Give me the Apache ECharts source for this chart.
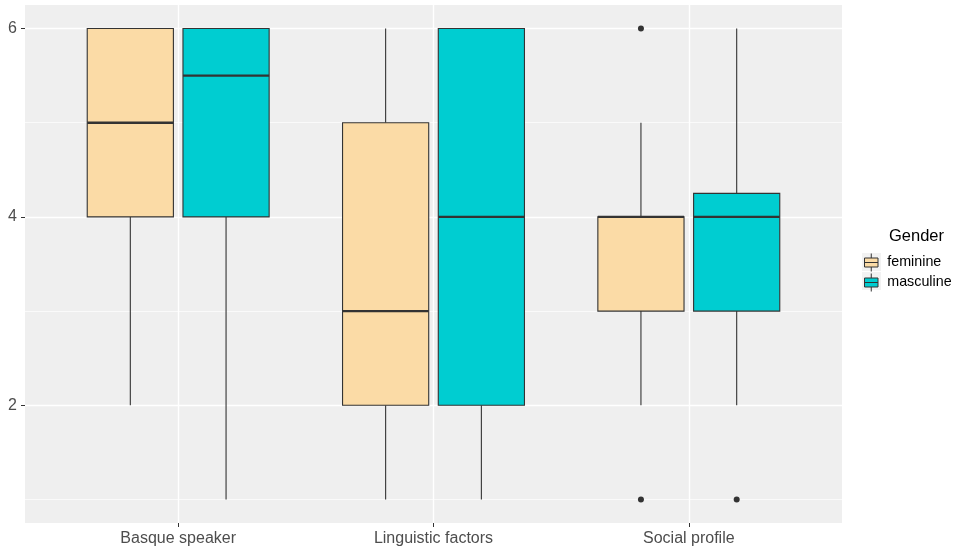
<!DOCTYPE html>
<html><head><meta charset="utf-8">
<script src="https://cdn.jsdelivr.net/npm/echarts@6/dist/echarts.min.js"></script>
<style>html,body{margin:0;padding:0;background:#fff}#c{width:961px;height:550px}</style>
</head><body><div id="c"></div>
<script>
// ---- data ----
const categories = ['Basque speaker', 'Linguistic factors', 'Social profile'];
const groups = ['feminine', 'masculine'];
// [lower whisker, Q1, median, Q3, upper whisker]
const feminineStats = [[2, 4, 5, 6, 6], [1, 2, 3, 5, 6], [2, 3, 4, 4, 5]];
const masculineStats = [[1, 4, 5.5, 6, 6], [1, 2, 4, 6, 6], [2, 3, 4, 4.25, 6]];
const feminineOutliers = [[], [], [1, 6]];
const masculineOutliers = [[], [], [1]];
const yLabelTicks = [2, 4, 6];
const yMajorGrid = [2, 4, 6];
const yMinorGrid = [1, 3, 5];

// ---- styling / layout ----
const colors = ['#FBDBA6', '#00CDD1'];
const dodge = [-0.1875, 0.1875];
const boxWidth = 0.3375;
const lineColor = '#333333';

const statsByGroup = [feminineStats, masculineStats];
const outliersByGroup = [feminineOutliers, masculineOutliers];

function boxRender(gi) {
  return function (params, api) {
    const x = api.value(0) + dodge[gi];
    const cx = api.coord([x, 0])[0];
    const w = api.size([boxWidth, 0])[0];
    const y = (i) => api.coord([x, api.value(i)])[1];
    const yLo = y(1), yQ1 = y(2), yMed = y(3), yQ3 = y(4), yHi = y(5);
    return {
      type: 'group',
      children: [
        { type: 'line', shape: { x1: cx, y1: yHi, x2: cx, y2: yQ3 }, style: { stroke: lineColor, lineWidth: 1.1 } },
        { type: 'line', shape: { x1: cx, y1: yQ1, x2: cx, y2: yLo }, style: { stroke: lineColor, lineWidth: 1.1 } },
        { type: 'rect', shape: { x: cx - w / 2, y: yQ3, width: w, height: yQ1 - yQ3 }, style: { fill: colors[gi], stroke: lineColor, lineWidth: 1.1 } },
        { type: 'line', shape: { x1: cx - w / 2, y1: yMed, x2: cx + w / 2, y2: yMed }, style: { stroke: lineColor, lineWidth: 2.4 } }
      ]
    };
  };
}

const series = [];
// grid lines
series.push({
  type: 'line', name: '_grid', data: [], z: 1, silent: true,
  markLine: {
    z: 1, silent: true, symbol: ['none', 'none'], label: { show: false }, animation: false,
    data: [
      ...yMinorGrid.map(v => ({ yAxis: v, lineStyle: { color: '#ffffff', width: 0.7, type: 'solid' } })),
      ...yMajorGrid.map(v => ({ yAxis: v, lineStyle: { color: '#ffffff', width: 1.4, type: 'solid' } })),
      ...categories.map((c, i) => ({ xAxis: i + 1, lineStyle: { color: '#ffffff', width: 1.4, type: 'solid' } }))
    ]
  }
});
groups.forEach((g, gi) => {
  series.push({
    type: 'custom', name: g, z: 3,
    renderItem: boxRender(gi),
    itemStyle: { color: colors[gi], borderColor: lineColor, borderWidth: 1 },
    encode: { x: 0, y: [1, 2, 3, 4, 5] },
    data: statsByGroup[gi].map((s, i) => [i + 1, ...s])
  });
  const pts = [];
  outliersByGroup[gi].forEach((arr, i) => arr.forEach(v => pts.push([i + 1 + dodge[gi], v])));
  series.push({
    type: 'scatter', name: g + ' outliers', z: 4, silent: true,
    symbol: 'circle', symbolSize: 6,
    itemStyle: { color: lineColor, opacity: 1 },
    data: pts
  });
});

const iconPath = 'path://M7,0V4M1,4H13V12H1ZM1,8H13M7,12V16';

const option = {
  animation: false,
  backgroundColor: '#ffffff',
  textStyle: { fontFamily: 'Liberation Sans, Arial, sans-serif' },
  title: {
    text: 'Gender', left: 889, top: 228, padding: 0,
    textStyle: { fontSize: 16.5, fontWeight: 'normal', color: '#000000', fontFamily: 'Liberation Sans, Arial, sans-serif' }
  },
  graphic: [
    { type: 'rect', left: 862, top: 253, z: 0, shape: { width: 19, height: 18 }, style: { fill: '#F2F2F2' }, silent: true },
    { type: 'rect', left: 862, top: 272, z: 0, shape: { width: 19, height: 18 }, style: { fill: '#F2F2F2' }, silent: true }
  ],
  legend: {
    orient: 'vertical', left: 864, top: 253, itemGap: 1, padding: 0, z: 5,
    itemWidth: 16, itemHeight: 18,
    textStyle: { fontSize: 14.3, color: '#000000', padding: [0, 0, 0, 3] },
    selectedMode: false,
    data: groups.map((g, gi) => ({
      name: g, icon: iconPath,
      itemStyle: { color: colors[gi], borderColor: lineColor, borderWidth: 1 }
    }))
  },
  grid: {
    left: 25, right: 119, top: 5, bottom: 27,
    show: true, backgroundColor: '#EFEFEF', borderWidth: 0, containLabel: false
  },
  xAxis: {
    type: 'value', min: 0.4, max: 3.6,
    axisLine: { show: false },
    axisTick: { show: true, customValues: [1, 2, 3], length: 4, lineStyle: { color: lineColor } },
    axisLabel: {
      customValues: [1, 2, 3], margin: 8, fontSize: 16, color: '#4D4D4D',
      formatter: (v) => categories[Math.round(v) - 1]
    },
    splitLine: { show: false }
  },
  yAxis: {
    type: 'value', min: 0.75, max: 6.25,
    axisLine: { show: false },
    axisTick: { show: true, customValues: yLabelTicks, length: 4, lineStyle: { color: lineColor } },
    axisLabel: { customValues: yLabelTicks, margin: 8, fontSize: 16, color: '#4D4D4D' },
    splitLine: { show: false }
  },
  series: series
};
const chart = echarts.init(document.getElementById('c'), null, { renderer: 'canvas' });
chart.setOption(option);
</script></body></html>
